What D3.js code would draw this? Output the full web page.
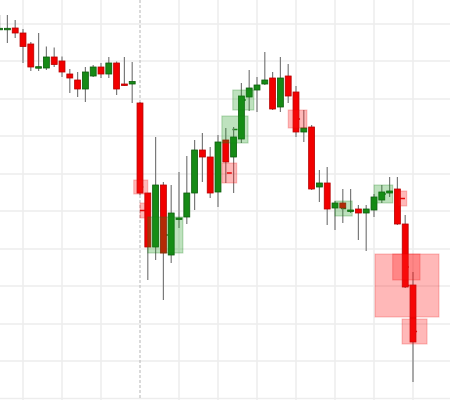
<!DOCTYPE html>
<html>
<head>
<meta charset="utf-8">
<script src="https://cdn.jsdelivr.net/npm/d3@7/dist/d3.min.js"></script>
<style>
  html, body { margin: 0; padding: 0; background: #fff; overflow: hidden; }
  svg { display: block; }
</style>
</head>
<body>
<div id="chart"></div>
<script>
// ---- data ----
const opens  = [137.15,137.12,137.2,136.7,135.6,133.3,133.2,134.3,133.9,132.6,132.0,131.1,132.4,133.3,132.6,133.7,131.6,131.6,129.7,120.7,115.3,121.5,114.5,118.1,118.3,120.7,125.0,124.3,120.8,126.0,124.3,126.1,130.3,131.0,131.6,132.2,129.3,132.4,130.8,126.8,127.3,121.3,121.7,119.2,119.7,118.9,119.1,118.7,119.0,120.0,120.7,121.1,117.6,111.5];
const highs  = [138.5,138.5,138.0,137.1,135.8,136.7,135.35,135.25,134.35,133.1,132.8,133.3,133.5,133.7,134.3,133.85,134.3,133.8,129.8,120.7,126.3,121.8,121.5,122.8,124.4,126.0,126.7,125.3,126.5,127.2,127.3,131.7,133.0,132.3,134.8,132.8,134.3,133.6,131.4,129.0,127.5,123.0,123.3,119.9,121.1,121.1,119.5,119.5,120.6,121.5,122.3,122.3,118.5,112.8];
const lows   = [137.0,135.7,136.2,133.7,132.9,132.9,133.0,133.3,132.3,130.7,130.3,129.8,132.3,132.2,132.2,130.5,131.4,129.7,120.5,112.0,114.0,110.0,113.7,117.2,117.6,119.0,121.8,120.2,119.3,121.7,120.7,125.7,128.9,128.8,131.5,129.0,128.8,129.7,126.3,125.8,121.0,119.8,117.5,117.0,117.7,118.7,116.0,114.9,118.3,119.7,120.3,117.5,111.2,101.8];
const closes = [137.17,137.17,136.7,135.35,133.3,133.33,134.3,133.55,132.8,132.2,131.1,132.8,133.3,132.6,133.7,131.1,131.5,131.85,120.7,115.3,121.5,114.7,118.7,118.2,120.7,125.0,124.3,120.7,125.8,123.8,126.3,130.4,131.2,131.5,132.0,129.1,132.2,130.4,126.8,127.2,121.1,121.7,119.1,119.7,119.2,119.0,118.7,119.1,120.3,120.8,120.9,117.6,111.3,105.8];

// zones: start/end in bar index units, low/high in price, kind
const zoneStart = [17.2, 18.0, 19.0, 28.5, 28.5, 29.9, 37.0, 43.0, 48.0, 51.1, 48.13, 50.4, 51.6];
const zoneEnd   = [19.0, 18.64, 23.5, 30.4, 31.85, 32.6, 39.4, 45.2, 50.4, 52.2, 56.33, 53.9, 54.8];
const zoneLow   = [120.6, 118.2, 114.7, 121.7, 125.7, 129.0, 127.2, 118.4, 119.7, 119.4, 108.3, 112.0, 105.6];
const zoneHigh  = [122.0, 119.7, 118.3, 123.7, 128.4, 131.0, 129.0, 119.9, 121.5, 120.9, 114.6, 114.6, 108.1];
const zoneKind  = ["sell","sell","buy","sell","buy","buy","sell","buy","buy","sell","sell","sell","sell"];

const gridPrices = [100.15, 103.9, 107.6, 111.4, 115.1, 118.9, 122.6, 126.4, 130.1, 133.9, 137.6];
const gridBars   = [3, 8, 13, 23, 28, 33, 38, 43, 48, 53];
const sessionBar = [18];

// ---- drawing ----
const W = 450, H = 400;
const svg = d3.select("#chart").append("svg").attr("width", W).attr("height", H);

const x = d3.scaleLinear().domain([0, 53]).range([-0.4, 413]);
const y = d3.scaleLinear().domain([100, 140]).range([400, 0]);
const step = x(1) - x(0);
const bw = step * 0.76;

// grid
svg.append("g").selectAll("line").data(gridPrices).join("line")
  .attr("x1", 0).attr("x2", W)
  .attr("y1", d => y(d)).attr("y2", d => y(d))
  .attr("stroke", "#ededed").attr("stroke-width", 1.5);
svg.append("g").selectAll("line").data(gridBars).join("line")
  .attr("x1", d => x(d)).attr("x2", d => x(d))
  .attr("y1", 0).attr("y2", H)
  .attr("stroke", "#ededed").attr("stroke-width", 1.5);
svg.append("g").selectAll("line").data(sessionBar).join("line")
  .attr("x1", d => x(d)).attr("x2", d => x(d))
  .attr("y1", 0).attr("y2", H)
  .attr("stroke", "#b5b5b5").attr("stroke-width", 1).attr("stroke-dasharray", "3,2");

const zones = zoneStart.map((s, k) => ({s, e: zoneEnd[k], lo: zoneLow[k], hi: zoneHigh[k], kind: zoneKind[k]}));

// zone centre marks (under candles)
svg.append("g").selectAll("line").data(zones).join("line")
  .attr("x1", d => (x(d.s) + x(d.e)) / 2 - 2.5)
  .attr("x2", d => (x(d.s) + x(d.e)) / 2 + 2.5)
  .attr("y1", d => y((d.lo + d.hi) / 2)).attr("y2", d => y((d.lo + d.hi) / 2))
  .attr("stroke", d => d.kind === "buy" ? "#127a12" : "#e00000")
  .attr("stroke-width", 1.5);

// candles
const bars = opens.map((o, i) => ({i, o, h: highs[i], l: lows[i], c: closes[i]}));
const g = svg.append("g");
g.selectAll("line.wick").data(bars).join("line").attr("class", "wick")
  .attr("x1", d => x(d.i)).attr("x2", d => x(d.i))
  .attr("y1", d => y(d.h)).attr("y2", d => y(d.l))
  .attr("stroke", "#7a7a7a").attr("stroke-width", 1.2);
g.selectAll("rect.body").data(bars).join("rect").attr("class", "body")
  .attr("x", d => x(d.i) - bw / 2)
  .attr("width", bw)
  .attr("y", d => y(Math.max(d.o, d.c)))
  .attr("height", d => Math.max(1.5, Math.abs(y(d.o) - y(d.c))))
  .attr("fill", d => d.c >= d.o ? "#168a16" : "#f20000")
  .attr("stroke", d => d.c >= d.o ? "#0c5c0c" : "#b80000")
  .attr("stroke-width", 0.8);

// zones overlay
svg.append("g").selectAll("rect").data(zones).join("rect")
  .attr("x", d => x(d.s)).attr("width", d => x(d.e) - x(d.s))
  .attr("y", d => y(d.hi)).attr("height", d => y(d.lo) - y(d.hi))
  .attr("fill", d => d.kind === "buy" ? "rgba(20,150,20,0.28)" : "rgba(255,20,20,0.30)")
  .attr("stroke", d => d.kind === "buy" ? "rgba(20,130,20,0.30)" : "rgba(230,0,0,0.25)")
  .attr("stroke-width", 1);
</script>
</body>
</html>
